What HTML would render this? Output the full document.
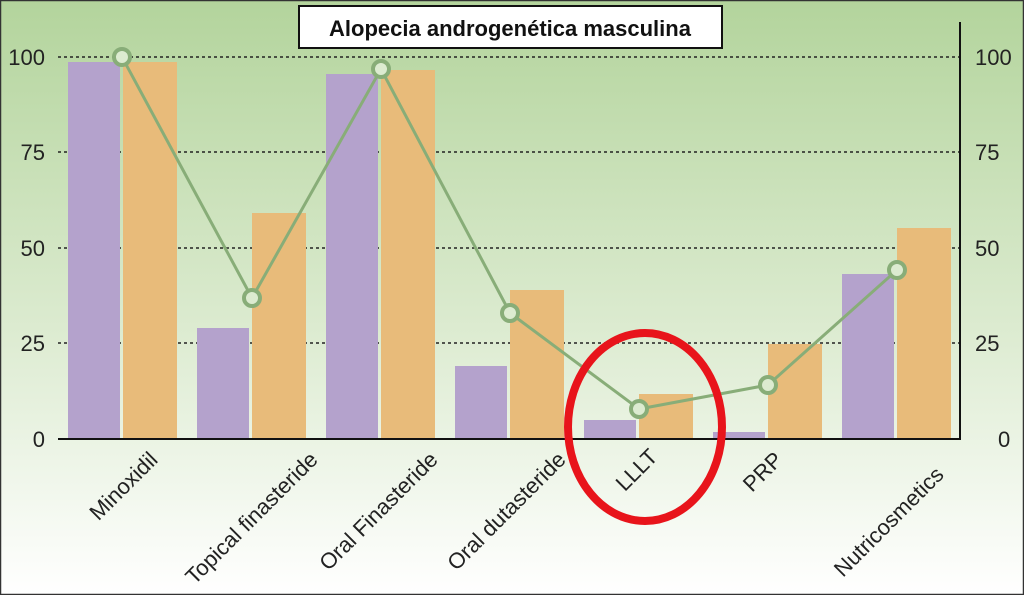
<!DOCTYPE html>
<html><head><meta charset="utf-8"><style>
html,body{margin:0;padding:0;width:1024px;height:595px;overflow:hidden}
</style></head><body>
<svg width="1024" height="595" xmlns="http://www.w3.org/2000/svg" font-family="Liberation Sans, sans-serif">
<defs><linearGradient id="bg" x1="0" y1="0" x2="0" y2="1">
<stop offset="0" stop-color="#b3d49c"/><stop offset="0.55" stop-color="#dcebd0"/><stop offset="1" stop-color="#ffffff"/></linearGradient></defs>
<rect x="0" y="0" width="1024" height="595" fill="url(#bg)"/>
<rect x="0.5" y="0.5" width="1023" height="594" fill="none" stroke="#333" stroke-width="1.5"/>
<g stroke="#222" stroke-width="1.6" stroke-dasharray="3,3">
<line x1="58" y1="57" x2="960" y2="57"/><line x1="58" y1="152" x2="960" y2="152"/>
<line x1="58" y1="248" x2="960" y2="248"/><line x1="58" y1="343" x2="960" y2="343"/></g>
<g font-size="22" fill="#222">
<text x="45" y="65" text-anchor="end">100</text><text x="45" y="160" text-anchor="end">75</text>
<text x="45" y="256" text-anchor="end">50</text><text x="45" y="351" text-anchor="end">25</text>
<text x="45" y="447" text-anchor="end">0</text>
<text x="975" y="65">100</text><text x="975" y="160">75</text><text x="975" y="256">50</text>
<text x="975" y="351">25</text><text x="998" y="447">0</text></g>
<g fill="#b4a2cc">
<rect x="68" y="62" width="52" height="377"/><rect x="197" y="328" width="52" height="111"/>
<rect x="326" y="74" width="52" height="365"/><rect x="455" y="366" width="52" height="73"/>
<rect x="584" y="420" width="52" height="19"/><rect x="713" y="432" width="52" height="7"/>
<rect x="842" y="274" width="52" height="165"/></g>
<g fill="#e8bb7a">
<rect x="123" y="62" width="54" height="377"/><rect x="252" y="213" width="54" height="226"/>
<rect x="381" y="70" width="54" height="369"/><rect x="510" y="290" width="54" height="149"/>
<rect x="639" y="394" width="54" height="45"/><rect x="768" y="344" width="54" height="95"/>
<rect x="897" y="228" width="54" height="211"/></g>
<line x1="58" y1="439" x2="961" y2="439" stroke="#111" stroke-width="2"/>
<line x1="960" y1="22" x2="960" y2="440" stroke="#111" stroke-width="2"/>
<polyline points="122,57 252,298 381,69 510,313 639,409 768,385 897,270" fill="none" stroke="#88ad78" stroke-width="3"/>
<g fill="#dcebd0" stroke="#88ad78" stroke-width="4">
<circle cx="122" cy="57" r="8"/><circle cx="252" cy="298" r="8"/><circle cx="381" cy="69" r="8"/>
<circle cx="510" cy="313" r="8"/><circle cx="639" cy="409" r="8"/><circle cx="768" cy="385" r="8"/><circle cx="897" cy="270" r="8"/></g>
<g font-size="22" fill="#222" text-anchor="end">
<text transform="translate(159,461) rotate(-45)">Minoxidil</text>
<text transform="translate(319,461) rotate(-45)">Topical finasteride</text>
<text transform="translate(439,461) rotate(-45)">Oral Finasteride</text>
<text transform="translate(567,461) rotate(-45)">Oral dutasteride</text>
<text transform="translate(659,458) rotate(-45)">LLLT</text>
<text transform="translate(784,461) rotate(-45)">PRP</text>
<text transform="translate(945,476) rotate(-45)">Nutricosmetics</text></g>
<ellipse cx="645" cy="427" rx="77" ry="94" fill="none" stroke="#e8141b" stroke-width="8"/>
<rect x="299" y="6" width="423" height="42" fill="#fff" stroke="#111" stroke-width="2"/>
<text x="510" y="36" text-anchor="middle" font-size="22" font-weight="bold" fill="#111">Alopecia androgenética masculina</text>
</svg>
</body></html>
